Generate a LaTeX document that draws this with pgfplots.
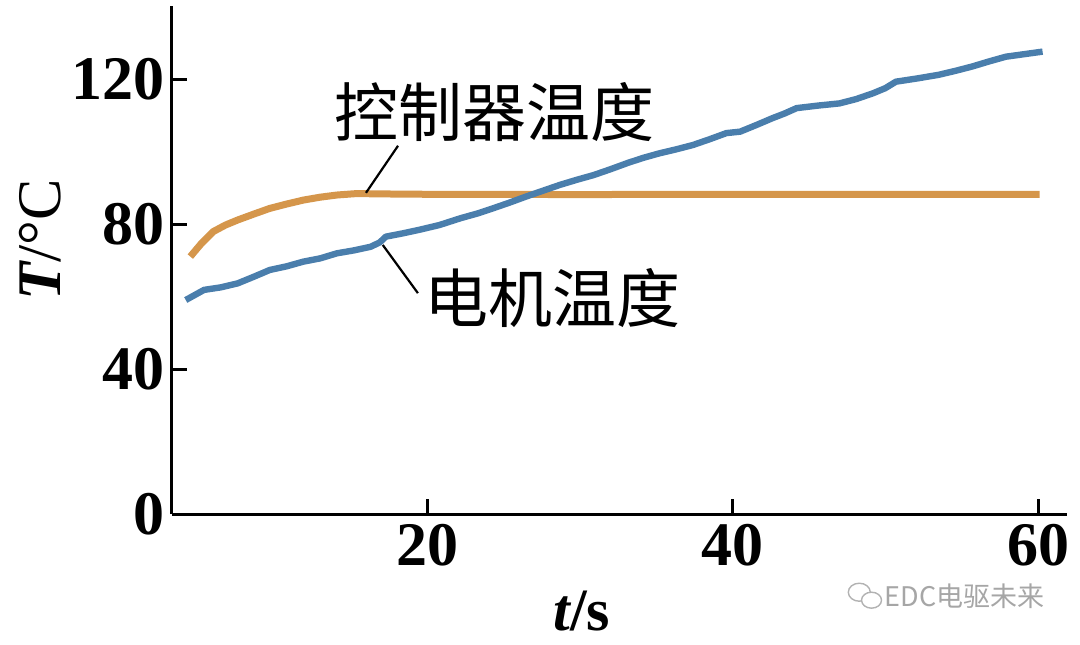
\documentclass[border=0pt]{standalone}
\usepackage{fontspec}
\usepackage{pgfplots}
\pgfplotsset{compat=1.18}
\setmainfont{Liberation Serif}
\newfontfamily\cjk{Noto Sans CJK SC}
\definecolor{ctrlorange}{RGB}{213,150,75}
\definecolor{motorblue}{RGB}{74,126,172}
\begin{document}
\begin{tikzpicture}
\useasboundingbox (-86pt,-65pt) rectangle (454pt,257pt);
\begin{axis}[
  scale only axis,
  width=447.5pt, height=254pt,
  xmin=3.3, xmax=61.9, ymin=0, ymax=140.3,
  axis x line=bottom, axis y line=left,
  axis line style={-, line width=1.5pt, black},
  xtick={20,40,60}, ytick={0,40,80,120},
  tick align=inside,
  major tick length=7.5pt,
  tick style={line width=1.5pt, black},
  /pgf/number format/assume math mode=true,
  ticklabel style={font=\fontsize{31}{31}\selectfont\bfseries},
  yticklabel style={inner sep=0pt, xshift=-3.5pt},
  xticklabel style={inner sep=0pt, yshift=-5pt},
  xlabel={\fontsize{30}{30}\selectfont\bfseries\itshape t\upshape/s},
  xlabel style={at={(axis description cs:0.458,-0.229)}, anchor=base, inner sep=0pt},
  ylabel={\fontsize{31}{31}\selectfont\bfseries\itshape T\upshape\mdseries/°C},
  ylabel style={at={(axis description cs:-0.1475,0.539)}, anchor=center, inner sep=0pt},
  clip=false,
]
% controller temperature
\addplot[color=ctrlorange, line width=3.5pt, line join=round] coordinates {
 (4.5,71.1) (5.2,74.6) (6.0,78.0) (6.8,79.8) (7.6,81.2) (8.7,82.9) (9.7,84.4)
 (10.8,85.6) (11.9,86.7) (13.0,87.5) (14.1,88.1) (15.4,88.5) (17,88.4)
 (20,88.3) (25,88.3) (30,88.2) (35,88.3) (40,88.3) (45,88.3) (50,88.3) (55,88.3) (60.1,88.3)
};
% motor temperature
\addplot[color=motorblue, line width=3.2pt, line join=round] coordinates {
 (4.2,59.1) (5.4,61.9) (6.5,62.6) (7.6,63.7) (8.7,65.6) (9.7,67.4) (10.8,68.4)
 (11.9,69.7) (13.0,70.6) (14.1,72.0) (15.2,72.8) (16.3,73.8) (16.9,75.0) (17.3,76.6)
 (18.4,77.5) (19.5,78.5) (20.8,79.8) (22.2,81.7) (23.3,83.0) (24.3,84.4) (25.4,86.0)
 (26.5,87.7) (27.6,89.3) (28.7,90.9) (29.8,92.3) (30.9,93.6) (32.0,95.2) (33.1,96.9)
 (34.1,98.3) (35.2,99.6) (36.3,100.7) (37.4,101.9) (38.5,103.5) (39.6,105.2)
 (40.5,105.6) (41.6,107.5) (42.6,109.3) (43.4,110.6) (44.2,112.1) (45.6,112.8)
 (47.0,113.4) (48.1,114.6) (49.2,116.2) (50.0,117.6) (50.7,119.4) (52.1,120.3)
 (53.5,121.3) (54.6,122.4) (55.7,123.6) (56.8,125.0) (57.9,126.3) (59.1,127.0) (60.3,127.7)
};
% annotations
\draw[line width=1.1pt] (axis cs:16.0,88.7) -- (axis cs:18.1,101.7);
\draw[line width=1.1pt] (axis cs:17.1,74.3) -- (axis cs:19.4,61.0);
\node[font=\cjk\fontsize{32}{32}\selectfont, inner sep=0pt] at (axis cs:24.4,110.9) {控制器温度};
\node[font=\cjk\fontsize{32}{32}\selectfont, inner sep=0pt] at (axis cs:28.2,59.7) {电机温度};
% watermark
\node[font=\cjk\fontsize{13.5}{13.5}\selectfont, text=black!35, inner sep=0pt] at (axis cs:55.2,-22.7) {EDC电驱未来};
\draw[black!30, line width=0.7pt] (axis cs:48.3,-21.6) ellipse (5.5pt and 4.5pt);
\draw[black!30, line width=0.7pt, fill=white] (axis cs:49.1,-23.8) ellipse (5pt and 4pt);
\end{axis}
\end{tikzpicture}
\end{document}
